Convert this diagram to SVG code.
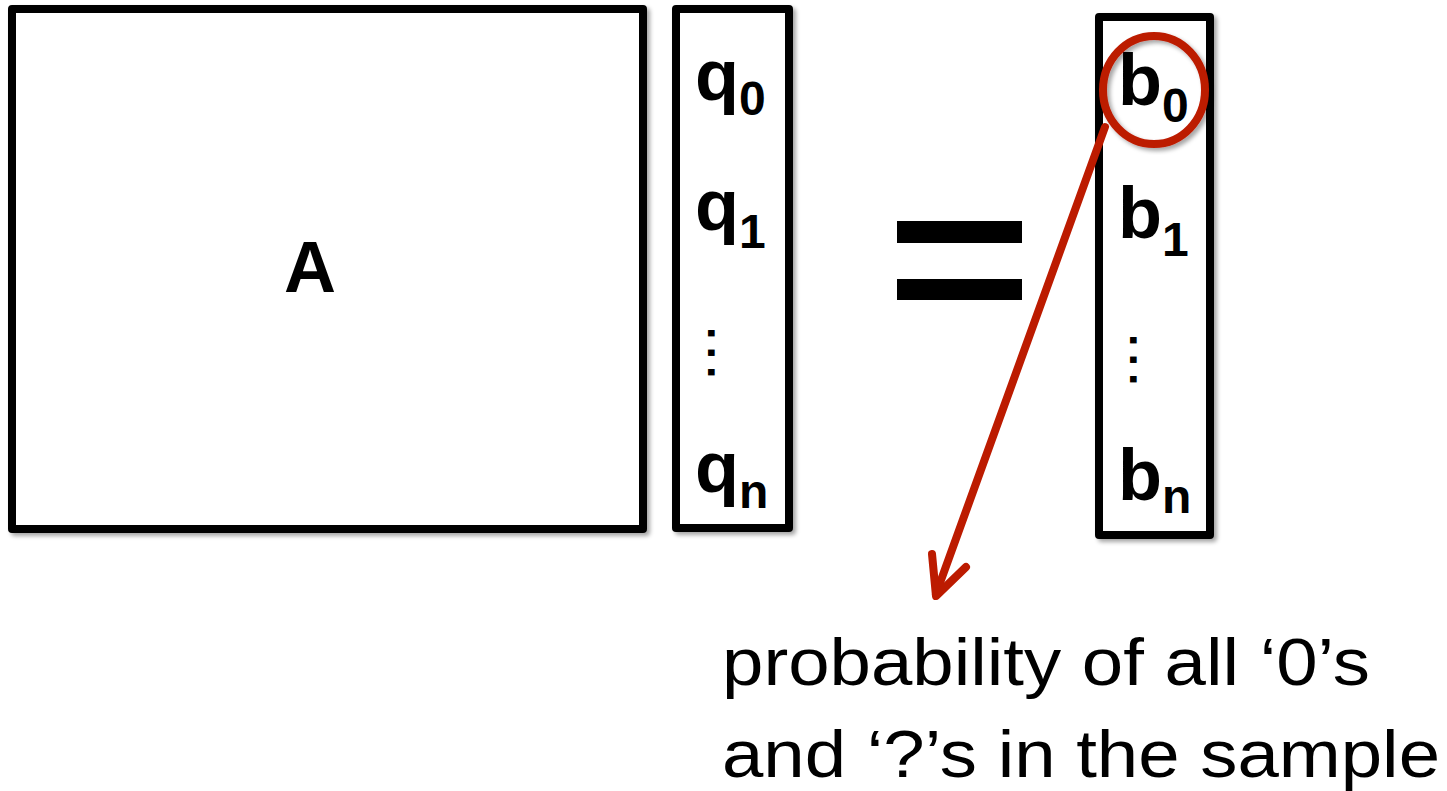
<svg xmlns="http://www.w3.org/2000/svg" width="1447" height="791" viewBox="0 0 1447 791">
<style>
.box{fill:#fff;stroke:#000;stroke-width:8;stroke-linejoin:round}
.lbl{font-family:"Liberation Sans",Arial,sans-serif;font-weight:bold;fill:#000}
.main{font-size:72px}
.sub{font-size:48px}
.dot{font-family:"Liberation Sans",Arial,sans-serif;font-weight:bold;font-size:45px;fill:#000;writing-mode:vertical-rl;letter-spacing:7px}
.note{font-family:"Liberation Sans",Arial,sans-serif;font-size:66px;fill:#000}
.red{fill:none;stroke:#BC1B00;stroke-width:8;stroke-linecap:round;stroke-linejoin:round}
</style>
<defs>
<filter id="sh" x="-10%" y="-10%" width="120%" height="120%">
<feDropShadow dx="3" dy="3" stdDeviation="2" flood-color="#000" flood-opacity="0.35"/>
</filter>
</defs>
<rect width="1447" height="791" fill="#fff"/>
<g id="matrixA">
<rect class="box" x="12" y="9" width="631" height="520" filter="url(#sh)"/>
<text class="lbl main" x="310" y="292" text-anchor="middle">A</text>
</g>
<g id="vectorQ">
<rect class="box" x="676" y="9" width="113" height="519" filter="url(#sh)"/>
<text class="lbl" x="695" y="100"><tspan class="main">q</tspan><tspan class="sub" dy="15">0</tspan></text>
<text class="lbl" x="695" y="230"><tspan class="main">q</tspan><tspan class="sub" dy="18">1</tspan></text>
<text class="dot" x="723" y="327">...</text>
<text class="lbl" x="695" y="492"><tspan class="main">q</tspan><tspan class="sub" dy="16">n</tspan></text>
</g>
<g id="equals">
<rect x="897" y="221" width="125" height="22" fill="#000"/>
<rect x="897" y="279" width="125" height="21" fill="#000"/>
</g>
<g id="vectorB">
<rect class="box" x="1099" y="17" width="111" height="518" filter="url(#sh)"/>
<text class="lbl" x="1118" y="105"><tspan class="main">b</tspan><tspan class="sub" dy="17">0</tspan></text>
<text class="lbl" x="1118" y="238"><tspan class="main">b</tspan><tspan class="sub" dy="18">1</tspan></text>
<text class="dot" x="1145" y="334">...</text>
<text class="lbl" x="1118" y="500"><tspan class="main">b</tspan><tspan class="sub" dy="13">n</tspan></text>
</g>
<g id="connectors">
<ellipse class="red" cx="1154" cy="90" rx="51" ry="54" filter="url(#sh)"/>
<line class="red" x1="1105" y1="127" x2="936" y2="594"/>
<polyline class="red" points="932,554 936,596 966,567"/>
</g>
<g id="note">
<text class="note" x="722" y="685" textLength="648" lengthAdjust="spacingAndGlyphs">probability of all ‘0’s</text>
<text class="note" x="722" y="777" textLength="718" lengthAdjust="spacingAndGlyphs">and ‘?’s in the sample</text>
</g>
</svg>
